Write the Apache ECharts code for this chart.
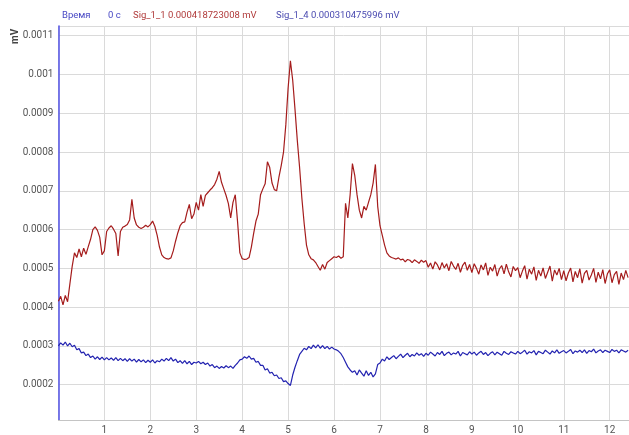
<!DOCTYPE html>
<html>
<head>
<meta charset="utf-8">
<script src="https://cdn.jsdelivr.net/npm/echarts@6/dist/echarts.min.js"></script>
<style>
html,body{margin:0;padding:0;background:#fff;}
#chart{width:629px;height:435px;}
</style>
</head>
<body>
<div id="chart"></div>
<script>
// Sampling: one value every 0.05 s starting at 0 s
const T_START = 0;
const T_STEP = 0.05;
// Values in units of 1e-6 mV
const VALUE_UNIT = 1e-6;

const xTicks = [1,2,3,4,5,6,7,8,9,10,11,12];
const yTicks = [0.0002,0.0003,0.0004,0.0005,0.0006,0.0007,0.0008,0.0009,0.001,0.0011];

const header = ['Время', '0 с', 'Sig_1_1 0.000418723008 mV', 'Sig_1_4 0.000310475996 mV'];
const seriesNames = ['Sig_1_1', 'Sig_1_4'];

const sig1_1 = [
 415,428,406,430,414,460,505,540,528,550,530,552,536,556,575,600,607,598,580,535,
 545,595,604,610,601,590,532,595,606,609,613,625,678,630,612,606,603,606,611,607,
 613,622,608,585,555,535,528,525,524,527,545,570,592,610,618,620,645,665,628,640,
 670,650,690,660,688,695,702,708,716,730,750,722,705,688,667,630,670,690,620,540,
 525,523,524,528,555,590,622,640,690,705,718,775,760,720,703,700,735,765,800,870,
 965,1035,985,910,830,760,680,615,560,535,525,522,515,505,495,510,498,515,520,525,
 530,528,532,526,530,668,630,690,770,740,690,650,630,660,650,670,690,720,768,660,
 610,585,560,540,532,528,526,524,527,522,524,517,523,521,515,522,518,513,521,516,
 520,503,514,498,517,509,496,515,501,512,494,518,506,497,513,490,508,516,495,510,
 489,512,500,485,509,496,514,482,503,493,510,480,499,507,486,511,491,478,505,494,
 502,476,493,507,472,498,485,504,469,495,480,501,474,490,506,467,496,483,500,471,
 494,468,488,501,465,492,476,499,462,487,495,470,483,500,464,490,473,497,461,486,
 496,463,484,492,459,488,471,495,476
];

const sig1_4 = [
 300,308,302,310,300,307,298,302,290,293,282,284,275,279,270,274,266,272,265,271,
 264,270,264,269,263,270,262,268,262,267,260,267,261,266,258,265,259,264,257,263,
 258,264,256,262,259,266,261,268,262,270,261,266,257,262,255,262,254,260,252,258,
 256,260,254,258,252,256,248,252,244,248,242,247,243,249,244,248,242,250,256,264,
 266,272,268,274,266,268,258,260,250,250,238,241,230,232,223,225,216,218,208,210,
 203,198,225,245,262,278,286,294,290,299,293,302,295,303,294,301,293,299,292,297,
 292,290,286,280,270,258,246,238,232,236,225,238,230,222,236,224,232,220,228,252,
 256,266,261,272,265,270,275,267,273,279,270,276,281,272,278,274,282,276,280,273,
 281,276,284,279,274,283,278,286,275,281,284,277,282,279,286,274,283,280,277,285,
 279,284,276,282,286,278,283,275,281,285,277,284,280,276,286,281,278,285,282,279,
 286,280,284,289,279,285,282,288,277,286,283,280,289,284,279,287,282,290,281,285,
 288,282,286,291,280,287,284,289,283,290,281,288,285,292,282,287,290,283,289,286,
 283,291,286,289,282,290,287,284,289
];

function toPairs(vals){
  return vals.map((v,i)=>[+(T_START + i*T_STEP).toFixed(3), +(v*VALUE_UNIT).toPrecision(6)]);
}

const chart = echarts.init(document.getElementById('chart'), null, {renderer:'canvas'});
const labelFont = 'Roboto, "Noto Sans", sans-serif';

chart.setOption({
  animation: false,
  backgroundColor: '#ffffff',
  grid: {left: 58.4, right: 0, top: 26, bottom: 8, containLabel: false},
  xAxis: {
    type: 'value', min: 0, max: 12.42, interval: 1,
    axisLine: {show: true, onZero: false, lineStyle: {color: '#c4c4c4', width: 1}},
    axisTick: {show: false},
    axisLabel: {
      show: true, color: '#555', fontSize: 10, fontFamily: labelFont, margin: 5,
      showMinLabel: false, showMaxLabel: false,
      formatter: v => (xTicks.indexOf(Math.round(v)) >= 0 && Math.abs(v - Math.round(v)) < 1e-6) ? String(Math.round(v)) : ''
    },
    splitLine: {show: true, lineStyle: {color: '#dadada', width: 1}}
  },
  yAxis: {
    type: 'value', min: 0.000109, max: 0.001125, splitNumber: 10,
    minInterval: 0.0001, maxInterval: 0.0001,
    axisLine: {show: true, onZero: false, lineStyle: {color: '#5a5ae6', width: 1.6}},
    axisTick: {show: false},
    axisLabel: {
      show: true, color: '#555', fontSize: 10, fontFamily: labelFont, margin: 5,
      showMinLabel: false, showMaxLabel: false,
      formatter: v => {
        const hit = yTicks.find(t => Math.abs(t - v) < 1e-9);
        return hit !== undefined ? String(hit) : '';
      }
    },
    splitLine: {show: true, lineStyle: {color: '#dadada', width: 1}}
  },
  series: [
    {name: seriesNames[0], type: 'line', data: toPairs(sig1_1), showSymbol: false, symbol: 'none',
     sampling: null, lineStyle: {color: '#a51c1c', width: 1.2}, itemStyle: {color: '#a51c1c'}, z: 3},
    {name: seriesNames[1], type: 'line', data: toPairs(sig1_4), showSymbol: false, symbol: 'none',
     sampling: null, lineStyle: {color: '#2323b0', width: 1.2}, itemStyle: {color: '#2323b0'}, z: 4}
  ],
  graphic: [
    {type: 'text', left: 62, top: 11, style: {text: header[0], fill: '#4848c4', font: '9.5px ' + labelFont}},
    {type: 'text', left: 108, top: 11, style: {text: header[1], fill: '#4848c4', font: '9.5px ' + labelFont}},
    {type: 'text', left: 133, top: 11, style: {text: header[2], fill: '#b03a3a', font: '9.5px ' + labelFont}},
    {type: 'text', left: 276, top: 11, style: {text: header[3], fill: '#4a4ab0', font: '9.5px ' + labelFont}},
    {type: 'text', x: 10, y: 44, rotation: Math.PI/2, style: {text: 'mV', fill: '#444', font: 'bold 10px ' + labelFont, textAlign: 'left', textVerticalAlign: 'top'}}
  ]
});
</script>
</body>
</html>
